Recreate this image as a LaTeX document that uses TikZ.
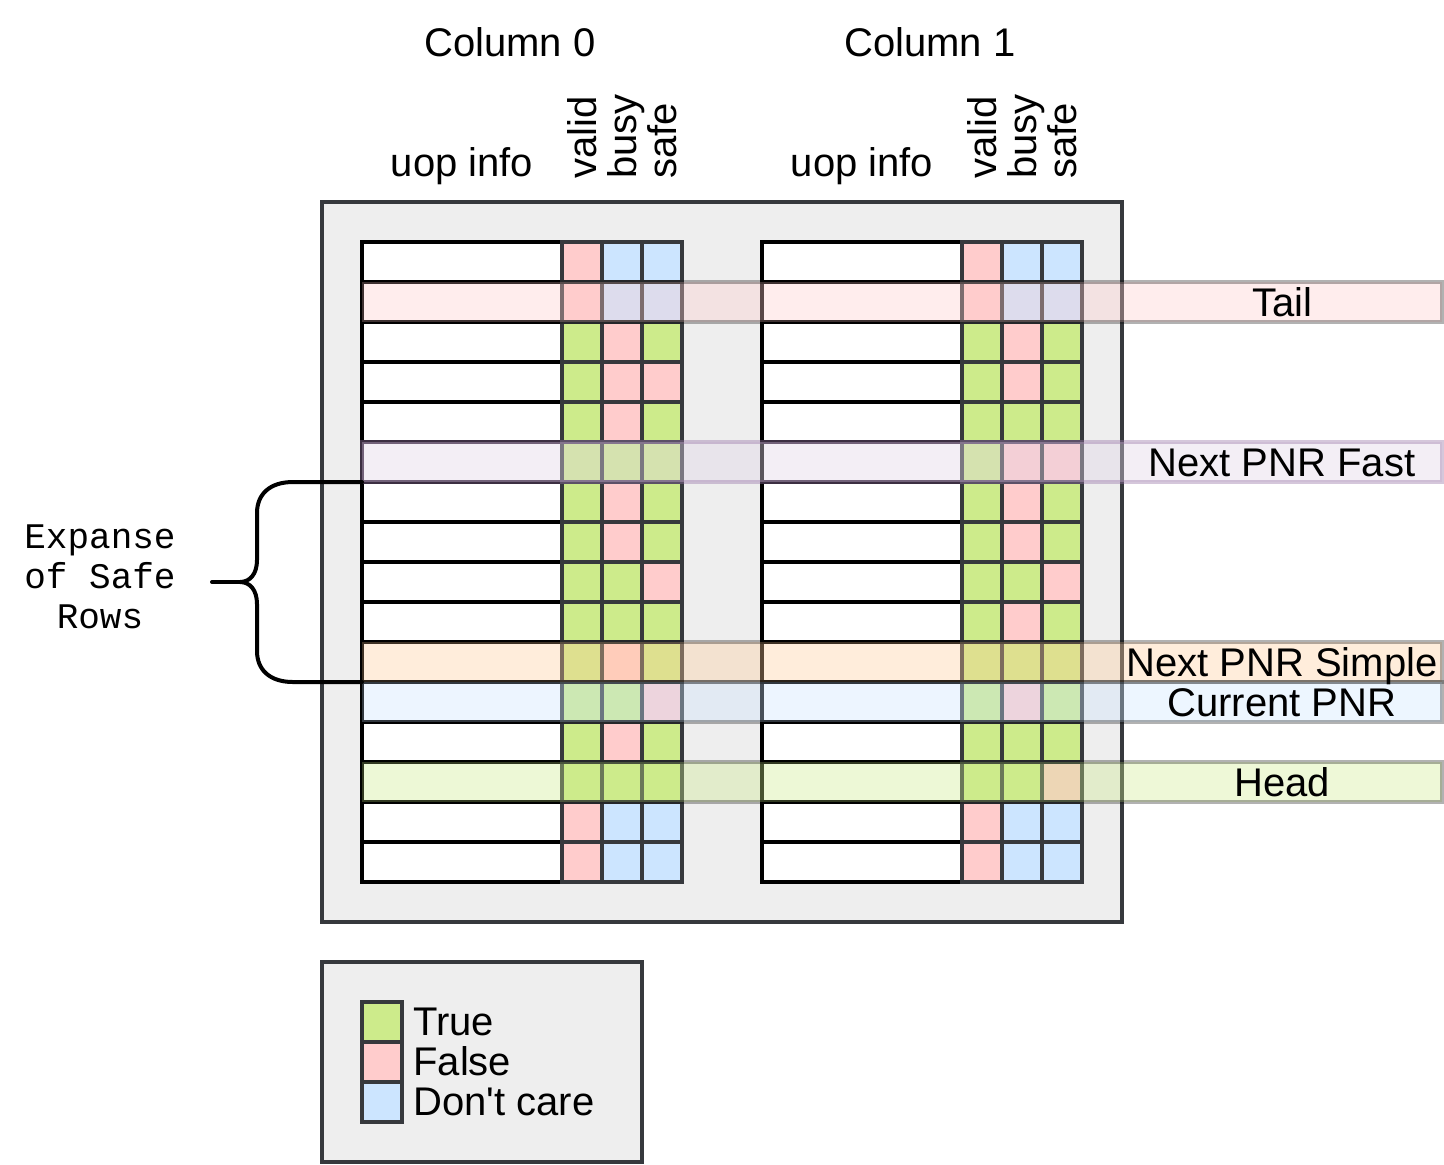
\documentclass[tikz,border=0pt]{standalone}
\usepackage{fontspec}
\setmainfont{Liberation Sans}
\setmonofont{Liberation Mono}
\usetikzlibrary{positioning}

\definecolor{T}{HTML}{CDEB8B}
\definecolor{F}{HTML}{FFCCCC}
\definecolor{D}{HTML}{CCE5FF}
\definecolor{frame}{HTML}{36393D}
\definecolor{panel}{HTML}{EEEEEE}
\definecolor{fastfill}{HTML}{E1D5E7}
\definecolor{fastline}{HTML}{9673A6}
\definecolor{simplefill}{HTML}{FFCC99}

\tikzset{
  cell/.style={draw, line width=2pt, outer sep=0pt, inner sep=0pt, minimum height=20pt},
  uop/.style={cell, fill=white, draw=black, minimum width=100pt},
  flag/.style={cell, draw=frame, minimum width=20pt},
  panelbox/.style={draw=frame, fill=panel, line width=2pt, outer sep=0pt, inner sep=0pt},
  band/.style={cell, minimum width=540pt, draw=black, draw opacity=0.3, fill opacity=0.35},
  lbl/.style={font=\fontsize{20}{24}\selectfont, inner sep=0pt, text height=14pt, text depth=0pt},
  vlbl/.style={lbl, rotate=90, anchor=west},
  brace/.style={line width=2pt, line cap=round, line join=round},
}

\begin{document}
\begin{tikzpicture}[x=0.5pt, y=-0.5pt]
        \useasboundingbox (0,0) rectangle (1444,1164);

        % grey panels
        \node[panelbox, minimum width=400pt, minimum height=360pt] (queue) at (722,562) {};
        \node[panelbox, minimum width=160pt, minimum height=100pt] (legend) at (482,1062) {};

        % column headings
        \node[lbl] (col0) at (510,42) {Column 0};
        \node[lbl] (col1) at (930,42) {Column 1};
        \foreach \c/\dx in {0/0,1/400} {
            \node[lbl] (info\c) at (462+\dx,162) {uop info};
            \node[vlbl] (valid\c) at (582+\dx,179) {valid};
            \node[vlbl] (busy\c) at (622+\dx,179) {busy};
            \node[vlbl] (safe\c) at (662+\dx,179) {safe};
        }

        % rows: valid/busy/safe of column 0, then of column 1
        \foreach \r/\va/\ba/\sa/\vb/\bb/\sb in {
            1/F/D/D/F/D/D, 2/F/D/D/F/D/D, 3/T/F/T/T/F/T, 4/T/F/F/T/F/T,
            5/T/F/T/T/T/T, 6/T/T/T/T/F/F, 7/T/F/T/T/F/T, 8/T/F/T/T/F/T,
            9/T/T/F/T/T/F, 10/T/T/T/T/F/T, 11/T/F/T/T/T/T, 12/T/T/F/T/F/T,
            13/T/F/T/T/T/T, 14/T/T/T/T/T/F, 15/F/D/D/F/D/D, 16/F/D/D/F/D/D} {
            \node[uop] (u0-\r) at (462,222+40*\r) {};
            \node[flag, fill=\va] (v0-\r) at (582,222+40*\r) {};
            \node[flag, fill=\ba] (b0-\r) at (622,222+40*\r) {};
            \node[flag, fill=\sa] (s0-\r) at (662,222+40*\r) {};
            \node[uop] (u1-\r) at (862,222+40*\r) {};
            \node[flag, fill=\vb] (v1-\r) at (982,222+40*\r) {};
            \node[flag, fill=\bb] (b1-\r) at (1022,222+40*\r) {};
            \node[flag, fill=\sb] (s1-\r) at (1062,222+40*\r) {};
        }

        % pointers
        \node[band, fill=F] (tail) at (902,302) {};
        \node[band, fill=fastfill, draw=fastline, draw opacity=0.4, fill opacity=0.4] (fast) at (902,462) {};
        \node[band, fill=simplefill] (simple) at (902,662) {};
        \node[band, fill=D] (current) at (902,702) {};
        \node[band, fill=T] (head) at (902,782) {};
        \node[lbl] (tailtext) at (1282,302) {Tail};
        \node[lbl] (fasttext) at (1282,462) {Next PNR Fast};
        \node[lbl] (simpletext) at (1282,662) {Next PNR Simple};
        \node[lbl] (currenttext) at (1282,702) {Current PNR};
        \node[lbl] (headtext) at (1282,782) {Head};

        % brace
        \node[font=\ttfamily\fontsize{18}{20}\selectfont, align=center, inner sep=0pt] (expanse) at (100,577) {Expanse\\of Safe\\Rows};
        \coordinate (tip) at (212,582);
        \coordinate (mid) at (240,582);
        \draw[brace] (u0-7.north west) -- (293,482) .. controls (270,482) and (257,494) .. (257,513) -- (257,560) .. controls (257,574) and (250,582) .. (mid)
            .. controls (250,582) and (257,590) .. (257,604) -- (257,651) .. controls (257,670) and (270,682) .. (293,682) -- (u0-11.south west);
        \draw[brace] (mid) -- (tip);

        % legend
        \node[flag, fill=T] (keyT) at (382,1022) {};
        \node[flag, fill=F] (keyF) at (382,1062) {};
        \node[flag, fill=D] (keyD) at (382,1102) {};
        \node[lbl, anchor=west] (keyTtext) at (413,1021) {True};
        \node[lbl, anchor=west] (keyFtext) at (413,1061) {False};
        \node[lbl, anchor=west] (keyDtext) at (413,1101) {Don\textquotesingle t care};
\end{tikzpicture}
\end{document}
